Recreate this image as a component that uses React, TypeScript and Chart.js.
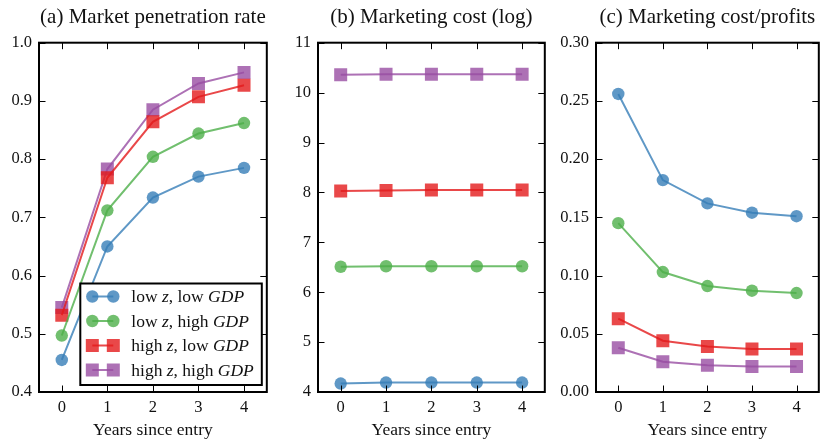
import React, { useEffect, useRef } from 'react';
import { Chart, registerables } from 'chart.js';
Chart.register(...registerables);

const FONT = "'Liberation Serif', serif";

const years = ['0', '1', '2', '3', '4'];
const xAxisTitle = 'Years since entry';
const seriesLabels = ['low z, low GDP', 'low z, high GDP', 'high z, low GDP', 'high z, high GDP'];
const italicWords = ['z', 'GDP'];
const seriesColors = ['rgba(55,126,184,0.8)', 'rgba(77,175,74,0.8)', 'rgba(228,26,28,0.8)', 'rgba(152,78,163,0.8)'];
const seriesMarkers = ['circle', 'circle', 'rect', 'rect'];

// (a) Market penetration rate
const penLowLow = [0.455, 0.650, 0.734, 0.770, 0.785];
const penLowHigh = [0.497, 0.712, 0.804, 0.844, 0.862];
const penHighLow = [0.532, 0.768, 0.864, 0.907, 0.927];
const penHighHigh = [0.545, 0.783, 0.885, 0.930, 0.949];

// (b) Marketing cost (log)
const costLowLow = [4.17, 4.19, 4.19, 4.19, 4.19];
const costLowHigh = [6.51, 6.52, 6.52, 6.52, 6.52];
const costHighLow = [8.03, 8.04, 8.05, 8.05, 8.05];
const costHighHigh = [10.36, 10.37, 10.37, 10.37, 10.37];

// (c) Marketing cost / profits
const ratioLowLow = [0.256, 0.182, 0.162, 0.154, 0.151];
const ratioLowHigh = [0.145, 0.103, 0.091, 0.087, 0.085];
const ratioHighLow = [0.063, 0.044, 0.039, 0.037, 0.037];
const ratioHighHigh = [0.038, 0.026, 0.023, 0.022, 0.022];

const panelTitles = ['(a) Market penetration rate', '(b) Marketing cost (log)', '(c) Marketing cost/profits'];

const CH = 441;
const CIRCLE_R = 6.2;
const SQUARE_SIDE = 13;

function splitRich(text: string) {
  const re = new RegExp('(\\b(?:' + italicWords.join('|') + ')\\b)');
  return text.split(re).filter((p) => p.length > 0);
}

function drawRich(ctx: CanvasRenderingContext2D, text: string, x: number, y: number, size: number) {
  let cx = x;
  for (const p of splitRich(text)) {
    const it = italicWords.includes(p);
    ctx.font = `${it ? 'italic ' : ''}${size}px ${FONT}`;
    ctx.fillText(p, cx, y);
    cx += ctx.measureText(p).width;
  }
  return cx - x;
}

function measureRich(ctx: CanvasRenderingContext2D, text: string, size: number) {
  let w = 0;
  for (const p of splitRich(text)) {
    const it = italicWords.includes(p);
    ctx.font = `${it ? 'italic ' : ''}${size}px ${FONT}`;
    w += ctx.measureText(p).width;
  }
  return w;
}

function drawMarker(ctx: CanvasRenderingContext2D, style: string, x: number, y: number, color: string) {
  ctx.fillStyle = color;
  ctx.beginPath();
  if (style === 'rect') {
    ctx.rect(x - SQUARE_SIDE / 2, y - SQUARE_SIDE / 2, SQUARE_SIDE, SQUARE_SIDE);
  } else {
    ctx.arc(x, y, CIRCLE_R, 0, Math.PI * 2);
  }
  ctx.fill();
}

const framePlugin = {
  id: 'frameTicks',
  afterDatasetsDraw(chart: any) {
    const { ctx, chartArea } = chart;
    const { left, right, top, bottom } = chartArea;
    const xs = chart.scales.x;
    const ys = chart.scales.y;
    ctx.save();
    ctx.strokeStyle = '#000';
    ctx.lineWidth = 1;
    const tl = 6.5;
    ctx.beginPath();
    xs.ticks.forEach((_t: any, i: number) => {
      const px = Math.round(xs.getPixelForTick(i)) + 0.5;
      ctx.moveTo(px, bottom);
      ctx.lineTo(px, bottom - tl);
      ctx.moveTo(px, top);
      ctx.lineTo(px, top + tl);
    });
    ys.ticks.forEach((t: any) => {
      const py = Math.round(ys.getPixelForValue(t.value)) + 0.5;
      ctx.moveTo(left, py);
      ctx.lineTo(left + tl, py);
      ctx.moveTo(right, py);
      ctx.lineTo(right - tl, py);
    });
    ctx.stroke();
    ctx.lineWidth = 2;
    ctx.strokeRect(left, top, right - left, bottom - top);

    if (chart.options.plugins.richLegend?.show) {
      const size = 17.5;
      const maxW = Math.max(...chart.data.datasets.map((d: any) => measureRich(ctx, d.label, size)));
      const w = 51 + maxW + 8;
      const rowH = 24.5;
      const h = 13 + rowH * 3 + 15;
      const bx = right - 5 - w;
      const by = bottom - 7 - h;
      ctx.fillStyle = '#fff';
      ctx.fillRect(bx, by, w, h);
      ctx.lineWidth = 2;
      ctx.strokeStyle = '#000';
      ctx.strokeRect(bx, by, w, h);
      chart.data.datasets.forEach((d: any, i: number) => {
        const cy = by + 13 + rowH * i;
        ctx.strokeStyle = d.borderColor;
        ctx.lineWidth = 2;
        ctx.beginPath();
        ctx.moveTo(bx + 12, cy);
        ctx.lineTo(bx + 33, cy);
        ctx.stroke();
        drawMarker(ctx, d.pointStyle, bx + 12, cy, d.pointBackgroundColor);
        drawMarker(ctx, d.pointStyle, bx + 33, cy, d.pointBackgroundColor);
        ctx.fillStyle = '#111';
        ctx.textBaseline = 'middle';
        ctx.textAlign = 'left';
        drawRich(ctx, d.label, bx + 51, cy + 1, size);
      });
    }
    ctx.restore();
  },
};

type PanelProps = {
  title: string;
  series: number[][];
  yMin: number;
  yMax: number;
  yStep: number;
  decimals: number;
  left: number;
  width: number;
  yAxisWidth: number;
  padRight: number;
  legend: boolean;
};

function Panel(p: PanelProps) {
  const ref = useRef<HTMLCanvasElement>(null);
  useEffect(() => {
    const canvas = ref.current!;
    const chart = new Chart(canvas, {
      type: 'line',
      data: {
        labels: years,
        datasets: p.series.map((vals, i) => ({
          label: seriesLabels[i],
          data: vals,
          borderColor: seriesColors[i],
          backgroundColor: seriesColors[i],
          pointBackgroundColor: seriesColors[i],
          pointBorderWidth: 0,
          pointBorderColor: seriesColors[i],
          pointStyle: seriesMarkers[i] as any,
          pointRadius: seriesMarkers[i] === 'rect' ? SQUARE_SIDE / Math.SQRT2 : CIRCLE_R,
          borderWidth: 2,
          tension: 0,
          fill: false,
        })),
      },
      options: {
        responsive: false,
        animation: false,
        devicePixelRatio: 1,
        layout: { padding: { left: 0, right: p.padRight, top: 0, bottom: 0 } },
        plugins: {
          legend: { display: false },
          tooltip: { enabled: false },
          title: {
            display: true,
            fullSize: false,
            text: p.title,
            color: '#111',
            font: { family: FONT, size: 21, weight: 'normal', lineHeight: 1.2 },
            padding: { top: 5, bottom: 12.5 },
          },
          richLegend: { show: p.legend },
        } as any,
        scales: {
          x: {
            type: 'category',
            offset: true,
            grid: { display: false, drawTicks: false, offset: false },
            border: { display: false },
            ticks: { color: '#111', font: { family: FONT, size: 16.5 }, padding: 6, maxRotation: 0 },
            title: {
              display: true,
              text: xAxisTitle,
              color: '#111',
              font: { family: FONT, size: 17.5 },
              padding: { top: 0, bottom: 0 },
            },
            afterFit: (s: any) => {
              s.height = 49;
            },
          },
          y: {
            type: 'linear',
            min: p.yMin,
            max: p.yMax,
            grid: { display: false, drawTicks: false },
            border: { display: false },
            ticks: {
              stepSize: p.yStep,
              color: '#111',
              font: { family: FONT, size: 16.5 },
              padding: 7,
              callback: (v: any) => Number(v).toFixed(p.decimals),
            },
            afterFit: (s: any) => {
              s.width = p.yAxisWidth;
            },
          },
        },
      },
      plugins: [framePlugin],
    });
    return () => chart.destroy();
  }, []);
  return (
    <div style={{ position: 'absolute', left: p.left, top: 0, width: p.width, height: CH }}>
      <canvas ref={ref} width={p.width} height={CH} style={{ display: 'block' }} />
    </div>
  );
}

export default function App() {
  return (
    <div style={{ position: 'fixed', left: 0, top: 0, width: 828, height: CH, background: '#fff', overflow: 'hidden' }}>
      <Panel
        title={panelTitles[0]}
        series={[penLowLow, penLowHigh, penHighLow, penHighHigh]}
        yMin={0.4}
        yMax={1.0}
        yStep={0.1}
        decimals={1}
        left={0}
        width={276}
        yAxisWidth={39}
        padRight={6}
        legend={true}
      />
      <Panel
        title={panelTitles[1]}
        series={[costLowLow, costLowHigh, costHighLow, costHighHigh]}
        yMin={4}
        yMax={11}
        yStep={1}
        decimals={0}
        left={278}
        width={276}
        yAxisWidth={40}
        padRight={6}
        legend={false}
      />
      <Panel
        title={panelTitles[2]}
        series={[ratioLowLow, ratioLowHigh, ratioHighLow, ratioHighHigh]}
        yMin={0}
        yMax={0.3}
        yStep={0.05}
        decimals={2}
        left={556}
        width={272}
        yAxisWidth={40}
        padRight={1}
        legend={false}
      />
    </div>
  );
}
